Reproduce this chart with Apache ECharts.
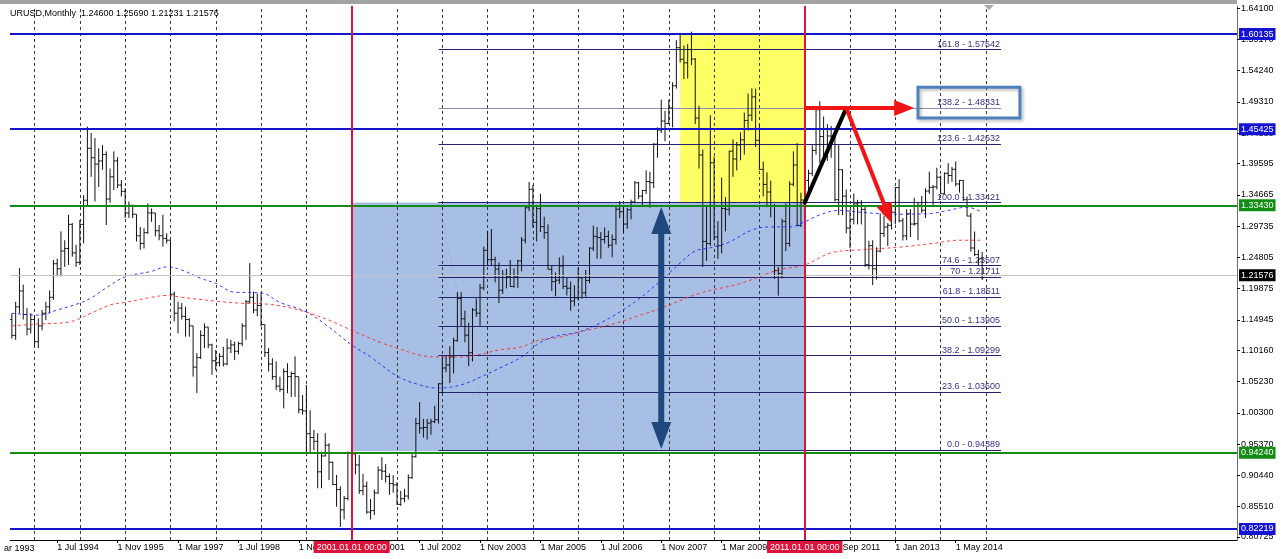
<!DOCTYPE html>
<html><head><meta charset="utf-8">
<script src="https://cdn.jsdelivr.net/npm/echarts@6/dist/echarts.min.js"></script>
<style>html,body{margin:0;padding:0;background:#fff}#c{width:1284px;height:559px}</style>
</head><body><div id="c"></div>
<script>
// ---------- data ----------
const titleText = 'URUSD,Monthly  1.24600 1.25690 1.21231 1.21576';
const firstSlotMonth = '1993-07';   // first bar on the chart
const slotCount = 325;              // bar slots across the plot (incl. right shift)

// OHLC, monthly, Jul 1993 .. Dec 2014
const barOpen = [
1.150,1.125,1.170,1.195,1.158,1.135,1.150,1.115,1.140,1.160,1.170,1.185,1.238,1.230,1.258,1.262,1.300,1.255,1.240,1.300,
1.338,1.420,1.405,1.395,1.400,1.410,1.340,1.375,1.400,1.362,1.352,1.318,1.330,1.316,1.282,1.270,1.287,1.318,1.318,1.290,
1.282,1.278,1.275,1.190,1.160,1.168,1.155,1.150,1.140,1.075,1.090,1.125,1.138,1.110,1.085,1.082,1.092,1.080,1.105,1.110,
1.100,1.112,1.140,1.178,1.185,1.165,1.172,1.142,1.098,1.080,1.060,1.045,1.040,1.068,1.060,1.065,1.060,1.008,1.006,0.970,
0.964,0.958,0.910,0.935,0.952,0.925,0.890,0.882,0.850,0.868,
0.940,0.9381,0.9208,0.8803,0.8873,0.8465,0.8488,0.8767,0.9127,0.9109,0.9026,0.8915,
0.8894,0.8587,0.8676,0.8718,0.9007,0.9337,0.9860,0.9789,0.9798,0.9867,0.9892,0.9920,
1.0487,1.0736,1.0784,1.0911,1.1167,1.1830,1.1511,1.1254,1.0976,1.1652,1.1600,1.1999,
1.2590,1.2443,1.2445,1.2295,1.1961,1.2199,1.2181,1.2021,1.2170,1.2425,1.2752,1.3262,
1.3554,1.3033,1.3248,1.2965,1.2869,1.2293,1.2098,1.2120,1.2343,1.2023,1.1993,1.1791,
1.1842,1.2157,1.1921,1.2116,1.2625,1.2811,1.2792,1.2760,1.2810,1.2671,1.2762,1.3239,
1.3199,1.3005,1.3229,1.3354,1.3656,1.3445,1.3534,1.3675,1.3657,1.4264,1.4487,1.4629,
1.4591,1.4835,1.5184,1.5785,1.5603,1.5546,1.5755,1.5606,1.4676,1.4094,1.2731,1.2698,
1.3971,1.2802,1.2664,1.3250,1.3236,1.4155,1.4031,1.4253,1.4333,1.4638,1.4720,1.5010,
1.4325,1.3867,1.3630,1.3510,1.3295,1.2271,1.2227,1.3048,1.2699,1.3633,1.3936,1.2983,
1.3384,1.3693,1.3805,1.4165,1.4807,1.4385,1.4502,1.4393,1.4379,1.3389,1.3862,1.3445,
1.2941,1.3080,1.3323,1.3340,1.3236,1.2364,1.2664,1.2300,1.2578,1.2857,1.2958,1.2986,
1.3191,1.3579,1.3056,1.2819,1.3168,1.3005,1.3010,1.3302,1.3223,1.3525,1.3584,1.3591,
1.3743,1.3484,1.3804,1.3770,1.3868,1.3637,1.3692,1.3389,1.3131,1.2628,1.2525,1.2460];
const barHigh = [
1.160,1.178,1.231,1.205,1.168,1.160,1.157,1.152,1.165,1.178,1.196,1.244,1.246,1.289,1.275,1.315,1.302,1.268,1.307,1.346,
1.454,1.444,1.436,1.420,1.425,1.415,1.388,1.415,1.406,1.370,1.357,1.336,1.331,1.316,1.296,1.294,1.333,1.325,1.318,1.299,
1.315,1.286,1.275,1.194,1.178,1.176,1.170,1.152,1.140,1.097,1.133,1.144,1.138,1.112,1.102,1.097,1.107,1.120,1.118,1.115,
1.115,1.144,1.181,1.239,1.194,1.191,1.191,1.142,1.105,1.089,1.084,1.060,1.073,1.081,1.068,1.092,1.060,1.031,1.047,1.007,
0.976,0.971,0.942,0.971,0.955,0.926,0.905,0.887,0.872,0.942,
0.9594,0.9405,0.9364,0.9068,0.8948,0.8672,0.8820,0.9187,0.9330,0.9222,0.9072,0.9049,
0.8938,0.8800,0.8832,0.9060,0.9378,0.9950,1.0199,0.9935,0.9934,0.9935,1.0140,1.0500,
1.0930,1.0935,1.1080,1.1215,1.1933,1.1933,1.1640,1.1450,1.1680,1.1833,1.2060,1.2649,
1.2898,1.2928,1.2490,1.2400,1.2280,1.2300,1.2437,1.2305,1.2440,1.2800,1.3300,1.3667,
1.3620,1.3300,1.3481,1.3120,1.3000,1.2350,1.2240,1.2480,1.2510,1.2160,1.2100,1.2040,
1.2320,1.2170,1.2280,1.2640,1.2979,1.2960,1.2880,1.2950,1.2900,1.2840,1.3290,1.3367,
1.3280,1.3260,1.3390,1.3682,1.3670,1.3540,1.3852,1.3830,1.4280,1.4530,1.4966,1.4790,
1.4965,1.5240,1.5904,1.6019,1.5820,1.5840,1.6038,1.5620,1.4870,1.4180,1.3300,1.4719,
1.4070,1.3050,1.3738,1.3430,1.4160,1.4340,1.4300,1.4450,1.4760,1.5063,1.5144,1.5140,
1.4580,1.3990,1.3820,1.3690,1.3320,1.2330,1.3090,1.3330,1.3680,1.4150,1.4282,1.3500,
1.3750,1.3860,1.4250,1.4860,1.4940,1.4700,1.4578,1.4549,1.4390,1.4248,1.3870,1.3550,
1.3230,1.3487,1.3387,1.3380,1.3280,1.2740,1.2750,1.2640,1.3172,1.3140,1.3020,1.3310,
1.3590,1.3711,1.3100,1.3240,1.3240,1.3420,1.3350,1.3450,1.3570,1.3832,1.3620,1.3893,
1.3770,1.3820,1.3967,1.3905,1.3993,1.3700,1.3700,1.3440,1.3180,1.2887,1.2600,1.2569];
const barLow = [
1.120,1.118,1.160,1.150,1.125,1.128,1.107,1.105,1.133,1.149,1.160,1.181,1.218,1.218,1.233,1.236,1.249,1.233,1.236,1.270,
1.330,1.375,1.336,1.359,1.386,1.299,1.334,1.354,1.357,1.344,1.310,1.310,1.310,1.273,1.260,1.262,1.285,1.304,1.281,1.275,
1.265,1.270,1.181,1.147,1.128,1.150,1.123,1.123,1.060,1.034,1.088,1.105,1.105,1.063,1.070,1.076,1.076,1.078,1.097,1.086,
1.095,1.108,1.118,1.176,1.160,1.155,1.139,1.091,1.068,1.055,1.039,1.036,1.010,1.034,1.028,1.028,1.002,1.000,0.939,0.939,
0.944,0.884,0.884,0.934,0.897,0.889,0.855,0.823,0.835,0.865,
0.9182,0.9060,0.8752,0.8732,0.8438,0.8348,0.8420,0.8755,0.8970,0.8932,0.8737,0.8770,
0.8577,0.8563,0.8620,0.8664,0.8988,0.9325,0.9702,0.9638,0.9608,0.9684,0.9865,0.9860,
1.0333,1.0670,1.0500,1.0650,1.1150,1.1400,1.1140,1.0765,1.0840,1.1540,1.1400,1.1960,
1.2360,1.2360,1.2086,1.1760,1.1905,1.1990,1.2020,1.2000,1.2000,1.2260,1.2700,1.3210,
1.2950,1.2730,1.2880,1.2770,1.2290,1.1950,1.1868,1.2060,1.1980,1.1880,1.1640,1.1710,
1.1800,1.1830,1.1860,1.2070,1.2580,1.2460,1.2460,1.2700,1.2630,1.2480,1.2680,1.3100,
1.2865,1.2930,1.3080,1.3330,1.3400,1.3290,1.3480,1.3262,1.3570,1.4050,1.4440,1.4310,
1.4580,1.4530,1.5140,1.5550,1.5290,1.5300,1.5510,1.4580,1.3880,1.2330,1.2424,1.2660,
1.2750,1.2457,1.2540,1.2890,1.3140,1.3750,1.3850,1.4010,1.4100,1.4480,1.4630,1.4220,
1.3860,1.3440,1.3270,1.3110,1.2140,1.1876,1.2150,1.2580,1.2650,1.3600,1.2970,1.2960,
1.2870,1.3440,1.3760,1.4100,1.3970,1.4070,1.4000,1.4050,1.3361,1.3145,1.3146,1.2858,
1.2624,1.3000,1.3000,1.3000,1.2330,1.2290,1.2042,1.2130,1.2560,1.2800,1.2660,1.2920,
1.3000,1.3030,1.2746,1.2750,1.2800,1.2980,1.2750,1.3180,1.3100,1.3480,1.3300,1.3550,
1.3480,1.3480,1.3640,1.3670,1.3600,1.3500,1.3370,1.3130,1.2570,1.2500,1.2358,1.21231];
const barClose = [
1.125,1.170,1.195,1.158,1.135,1.150,1.115,1.140,1.160,1.170,1.185,1.238,1.230,1.258,1.262,1.300,1.255,1.240,1.300,1.338,
1.420,1.405,1.395,1.400,1.410,1.340,1.375,1.400,1.362,1.352,1.318,1.330,1.316,1.282,1.270,1.287,1.318,1.318,1.290,1.282,
1.278,1.275,1.190,1.160,1.168,1.155,1.150,1.140,1.075,1.090,1.125,1.138,1.110,1.085,1.082,1.092,1.080,1.105,1.110,1.100,
1.112,1.140,1.178,1.185,1.165,1.172,1.142,1.098,1.080,1.060,1.045,1.040,1.068,1.060,1.065,1.060,1.008,1.006,0.970,0.964,
0.958,0.910,0.935,0.952,0.925,0.890,0.882,0.850,0.868,0.940,
0.9381,0.9208,0.8803,0.8873,0.8465,0.8488,0.8767,0.9127,0.9109,0.9026,0.8915,0.8894,
0.8587,0.8676,0.8718,0.9007,0.9337,0.9860,0.9789,0.9798,0.9867,0.9892,0.9920,1.0487,
1.0736,1.0784,1.0911,1.1167,1.1830,1.1511,1.1254,1.0976,1.1652,1.1600,1.1999,1.2590,
1.2443,1.2445,1.2295,1.1961,1.2199,1.2181,1.2021,1.2170,1.2425,1.2752,1.3262,1.3554,
1.3033,1.3248,1.2965,1.2869,1.2293,1.2098,1.2120,1.2343,1.2023,1.1993,1.1791,1.1842,
1.2157,1.1921,1.2116,1.2625,1.2811,1.2792,1.2760,1.2810,1.2671,1.2762,1.3239,1.3199,
1.3005,1.3229,1.3354,1.3656,1.3445,1.3534,1.3675,1.3657,1.4264,1.4487,1.4629,1.4591,
1.4835,1.5184,1.5785,1.5603,1.5546,1.5755,1.5606,1.4676,1.4094,1.2731,1.2698,1.3971,
1.2802,1.2664,1.3250,1.3236,1.4155,1.4031,1.4253,1.4333,1.4638,1.4720,1.5010,1.4325,
1.3867,1.3630,1.3510,1.3295,1.2271,1.2227,1.3048,1.2699,1.3633,1.3936,1.2983,1.3384,
1.3693,1.3805,1.4165,1.4807,1.4385,1.4502,1.4393,1.4379,1.3389,1.3862,1.3445,1.2941,
1.3080,1.3323,1.3340,1.3236,1.2364,1.2664,1.2300,1.2578,1.2857,1.2958,1.2986,1.3191,
1.3579,1.3056,1.2819,1.3168,1.3005,1.3010,1.3302,1.3223,1.3525,1.3584,1.3591,1.3743,
1.3484,1.3804,1.3770,1.3868,1.3637,1.3692,1.3389,1.3131,1.2628,1.2525,1.2452,1.21576];

// moving averages
const maBlueMonths = ['1993-07','1994-02','1994-07','1995-01','1995-04','1995-08','1996-01','1996-08','1996-12','1997-04','1997-09','1998-01','1998-06','1999-01','1999-06','2000-01','2000-07','2001-01','2001-06','2002-01','2002-07','2002-12','2003-06','2003-11','2004-04','2004-10','2005-03','2005-08','2006-01','2006-07','2006-12','2007-05','2007-11','2008-04','2008-08','2008-12','2009-05','2009-11','2010-04','2010-09','2011-01','2011-05','2011-10','2012-04','2012-09','2013-02','2013-10','2014-03','2014-08','2014-12'];
const maBlueValues = [1.160,1.157,1.165,1.176,1.184,1.200,1.217,1.226,1.233,1.228,1.215,1.207,1.193,1.192,1.177,1.162,1.138,1.110,1.091,1.061,1.047,1.042,1.047,1.059,1.073,1.091,1.114,1.125,1.130,1.145,1.162,1.182,1.212,1.239,1.258,1.263,1.272,1.291,1.296,1.296,1.304,1.315,1.322,1.319,1.317,1.316,1.317,1.322,1.327,1.319];
const maRedMonths = ['1993-07','1994-02','1994-10','1995-04','1995-09','1996-01','1996-08','1996-12','1997-04','1998-01','1998-07','1999-03','1999-11','2000-07','2001-01','2001-09','2002-01','2002-07','2002-12','2003-06','2003-11','2004-04','2004-10','2005-03','2005-08','2006-01','2006-07','2006-12','2007-05','2007-11','2008-09','2009-08','2010-06','2011-01','2011-08','2012-04','2013-02','2013-11','2014-06','2014-12'];
const maRedValues = [1.140,1.143,1.146,1.160,1.173,1.177,1.185,1.188,1.185,1.179,1.176,1.174,1.165,1.149,1.133,1.113,1.105,1.094,1.091,1.091,1.095,1.102,1.107,1.118,1.122,1.130,1.138,1.146,1.156,1.168,1.191,1.207,1.228,1.236,1.255,1.260,1.264,1.270,1.275,1.275];

// axes
const xTickMonths = ['1994-07','1995-11','1997-03','1998-07','1999-11','2001-03','2002-07','2003-11','2005-03','2006-07','2007-11','2009-03','2010-07','2011-09','2013-01','2014-05'];
const xClippedLabel = 'ar 1993';
const yTickValues = [1.64100,1.59170,1.54240,1.49310,1.44380,1.39595,1.34665,1.29735,1.24805,1.19875,1.14945,1.10160,1.05230,1.00300,0.95370,0.90440,0.85510,0.80725];
const yearSeparators = ['1994-01','1995-01','1996-01','1997-01','1998-01','1999-01','2000-01','2002-01','2003-01','2004-01','2005-01','2006-01','2007-01','2008-01','2009-01','2010-01','2012-01','2013-01','2014-01','2015-01'];

// drawn objects
const dateLineMonths = ['2001-01','2011-01'];
const dateLineTexts = ['2001.01.01 00:00','2011.01.01 00:00'];
const levelPrices = [1.60135,1.45425,0.82219,1.33430,0.94240,1.21576];
const levelKinds  = ['blue','blue','blue','green','green','bid'];
const fibStartMonth = '2002-12', fibEndMonth = '2015-05';
const fibLevels = ['161.8','138.2','123.6','100.0','74.6','70','61.8','50.0','38.2','23.6','0.0'];
const fibPrices = [1.57542,1.48331,1.42632,1.33421,1.23507,1.21711,1.18511,1.13905,1.09299,1.03600,0.94389];
const fibTrend = [['2002-12',1.33421],['2004-02',0.94389]];
const yellowRect = [['2008-04',1.60135],['2011-01',1.33430]];
const blueRect   = [['2001-01',1.33430],['2011-01',0.94240]];
const labelBox   = [['2013-07',1.5160],['2015-10',1.4676]];
// arrows: [fromMonth, fromPrice, toMonth, toPrice, headAtStart, headAtEnd]
const arrows = [
  ['2007-11',1.3273,'2007-11',0.9459,1,1],
  ['2011-01',1.3343,'2011-12',1.4833,0,0],
  ['2011-01',1.4833,'2013-06',1.4833,0,1],
  ['2011-12',1.4833,'2012-12',1.3021,0,1]];
const arrowKinds = ['navy','black','red','red'];

// ---------- helpers / styles ----------
const FONT = "'Liberation Sans', Arial, sans-serif";
const MON = ['Jan','Feb','Mar','Apr','May','Jun','Jul','Aug','Sep','Oct','Nov','Dec'];
const fy = +firstSlotMonth.slice(0,4), fm = +firstSlotMonth.slice(5,7);
function mi(k){ return (+k.slice(0,4) - fy) * 12 + (+k.slice(5,7) - fm); }
function monthLabel(k){ return '1 ' + MON[+k.slice(5,7)-1] + ' ' + k.slice(0,4); }
const xTickIdx = xTickMonths.map(mi);
const xTickText = {}; xTickMonths.forEach(k => xTickText[mi(k)] = monthLabel(k));

const levelStyle = {
  blue:  {color:'#1414c8', width:2, bg:'#1414d2', fg:'#fff'},
  green: {color:'#168a16', width:2, bg:'#128c12', fg:'#fff'},
  bid:   {color:'#c4c4c4', width:1, bg:'#000000', fg:'#fff'}
};
const arrowStyle = [
  {color:'#1f497d', w:6, hl:27, hw:20},
  {color:'#000000', w:4, hl:0, hw:0},
  {color:'#f01414', w:4, hl:20, hw:16}
];
const arrowKindIdx = {navy:0, black:1, red:2};

const bars = barOpen.map((o,i) => [i, o, barHigh[i], barLow[i], barClose[i]]);

function renderBar(params, api){
  const i = api.value(0);
  const h = api.coord([i, api.value(2)]), l = api.coord([i, api.value(3)]);
  const o = api.coord([i, api.value(1)]), c = api.coord([i, api.value(4)]);
  const x = h[0];
  const st = {stroke:'#111', lineWidth:1};
  return {type:'group', children:[
    {type:'line', shape:{x1:x, y1:h[1], x2:x, y2:l[1]}, style:st},
    {type:'line', shape:{x1:x-1.8, y1:o[1], x2:x, y2:o[1]}, style:st},
    {type:'line', shape:{x1:x, y1:c[1], x2:x+1.8, y2:c[1]}, style:st}
  ]};
}

function renderArrow(params, api){
  const p1 = api.coord([api.value(0), api.value(1)]);
  const p2 = api.coord([api.value(2), api.value(3)]);
  const st = arrowStyle[api.value(6)];
  const dx = p2[0]-p1[0], dy = p2[1]-p1[1], len = Math.hypot(dx,dy);
  const ux = dx/len, uy = dy/len, px = -uy, py = ux;
  let a = p1.slice(), b = p2.slice();
  const ch = [];
  function head(tip, vx, vy){
    const bx = tip[0] - vx*st.hl, by = tip[1] - vy*st.hl;
    return {type:'polygon', shape:{points:[[tip[0],tip[1]],[bx+px*st.hw/2, by+py*st.hw/2],[bx-px*st.hw/2, by-py*st.hw/2]]},
            style:{fill:st.color}};
  }
  if (api.value(4)) { a = [p1[0]+ux*st.hl*0.7, p1[1]+uy*st.hl*0.7]; ch.push(head(p1, -ux, -uy)); }
  if (api.value(5)) { b = [p2[0]-ux*st.hl*0.7, p2[1]-uy*st.hl*0.7]; ch.push(head(p2, ux, uy)); }
  ch.unshift({type:'line', shape:{x1:a[0], y1:a[1], x2:b[0], y2:b[1]},
              style:{stroke:st.color, lineWidth:st.w, lineCap: st.hl ? 'butt' : 'round'}});
  return {type:'group', children:ch};
}

const chart = echarts.init(document.getElementById('c'), null, {renderer:'canvas'});
chart.setOption({
  animation:false,
  backgroundColor:'#ffffff',
  textStyle:{fontFamily:FONT},
  title:{text:titleText, left:10, top:9, padding:0, textStyle:{fontSize:9, fontWeight:'normal', color:'#000', fontFamily:FONT}},
  grid:{left:10, right:47, top:6, bottom:19},
  xAxis:{type:'value', min:-0.5, max:slotCount-0.5, splitLine:{show:false},
    axisLine:{show:true, onZero:false, lineStyle:{color:'#000', width:1}},
    axisTick:{show:true, customValues:xTickIdx, length:3, lineStyle:{color:'#000'}},
    axisLabel:{customValues:xTickIdx, formatter:v => xTickText[v] || '', align:'left', fontSize:9, color:'#000', margin:3, fontFamily:FONT}},
  yAxis:{type:'value', position:'right', min:0.8025, max:1.6442, scale:true, splitLine:{show:false},
    axisLine:{show:true, onZero:false, lineStyle:{color:'#6e6e6e', width:1}},
    axisTick:{show:true, customValues:yTickValues, length:3, lineStyle:{color:'#000'}},
    axisLabel:{customValues:yTickValues, formatter:v => v.toFixed(5), fontSize:9, color:'#000', margin:4, fontFamily:FONT}},
  graphic:[
    {type:'rect', shape:{x:0, y:0, width:1237, height:4}, style:{fill:'#a3a3a3'}, z:100},
    {type:'polygon', shape:{points:[[984,5],[994,5],[989,10]]}, style:{fill:'#a8a8a8'}, z:100},
    {type:'text', x:4, y:544, style:{text:xClippedLabel, font:'9px ' + FONT, fill:'#000'}, z:100}
  ],
  series:[
    { // shaded rectangles
      type:'line', data:[], z:1, clip:false, silent:true,
      markArea:{silent:true, z:1, data:[
        [{xAxis:mi(blueRect[0][0]), yAxis:blueRect[0][1], itemStyle:{color:'#a7bfe4'}},
         {xAxis:mi(blueRect[1][0]), yAxis:blueRect[1][1]}],
        [{xAxis:mi(yellowRect[0][0]), yAxis:yellowRect[0][1], itemStyle:{color:'#ffff66'}},
         {xAxis:mi(yellowRect[1][0]), yAxis:yellowRect[1][1]}]
      ]}
    },
    { // year separators, fib levels and trend line
      type:'line', data:[], z:2, clip:false, silent:true,
      markLine:{silent:true, symbol:'none', z:2, animation:false, data:[
        ...yearSeparators.map(k => ({xAxis:mi(k), label:{show:false}, lineStyle:{type:[3,3], color:'#3a3a3a', width:1}})),
        [{coord:[mi(fibTrend[0][0]), fibTrend[0][1]], label:{show:false}, lineStyle:{type:[2,3], color:'#a9a9c6', width:1}},
         {coord:[mi(fibTrend[1][0]), fibTrend[1][1]]}],
        ...fibPrices.map((p,k) => [
          {coord:[mi(fibStartMonth), p],
           lineStyle:{color: fibLevels[k]==='138.2' ? '#8c8cb0' : '#24246e', width:1, type:'solid'},
           label:{show:true, position:'insideEndTop', distance:1, formatter: fibLevels[k] + ' - ' + p.toFixed(5),
                  color:'#333386', fontSize:9, fontFamily:FONT}},
          {coord:[mi(fibEndMonth), p]}
        ])
      ]}
    },
    { // price bars
      type:'custom', name:'EURUSD', z:3, clip:true, renderItem:renderBar,
      encode:{x:0, y:[2,3]}, data:bars
    },
    {type:'line', z:4, showSymbol:false, smooth:0.4, silent:true,
      data:maBlueMonths.map((k,i) => [mi(k), maBlueValues[i]]),
      lineStyle:{color:'#1a1aff', width:1, type:[3,3], opacity:0.85}},
    {type:'line', z:4, showSymbol:false, smooth:0.4, silent:true,
      data:maRedMonths.map((k,i) => [mi(k), maRedValues[i]]),
      lineStyle:{color:'#ff2020', width:1, type:[3,3], opacity:0.85}},
    { // horizontal levels, red date lines, label box
      type:'line', data:[], z:6, clip:false, silent:true,
      markLine:{silent:true, symbol:'none', z:6, animation:false, data:[
        ...levelPrices.map((p,k) => {
          const s = levelStyle[levelKinds[k]];
          return {yAxis:p, lineStyle:{color:s.color, width:s.width, type:'solid'},
            label:{show:true, position:'end', distance:2, formatter:p.toFixed(5), color:s.fg,
                   backgroundColor:s.bg, padding:[2,2,1,2], fontSize:9, fontFamily:FONT}};
        }),
        ...dateLineMonths.map((k,j) => ({xAxis:mi(k), lineStyle:{color:'#dc143c', width:2, type:'solid'},
            label:{show:true, position:'start', distance:1, formatter:dateLineTexts[j], color:'#fff',
                   backgroundColor:'#dc143c', padding:[2,3,1,3], fontSize:9, fontFamily:FONT}}))
      ]},
      markArea:{silent:true, z:7, data:[
        [{xAxis:mi(labelBox[0][0]), yAxis:labelBox[0][1],
          itemStyle:{color:'rgba(0,0,0,0)', borderColor:'#4f81bd', borderWidth:3,
                     shadowColor:'rgba(0,0,0,0.25)', shadowBlur:3, shadowOffsetX:2, shadowOffsetY:2}},
         {xAxis:mi(labelBox[1][0]), yAxis:labelBox[1][1]}]
      ]}
    },
    { // arrows
      type:'custom', z:10, clip:false, silent:true, renderItem:renderArrow,
      encode:{x:[0,2], y:[1,3]},
      data:arrows.map((a,k) => [mi(a[0]), a[1], mi(a[2]), a[3], a[4], a[5], arrowKindIdx[arrowKinds[k]]])
    }
  ]
});
</script>
</body></html>
